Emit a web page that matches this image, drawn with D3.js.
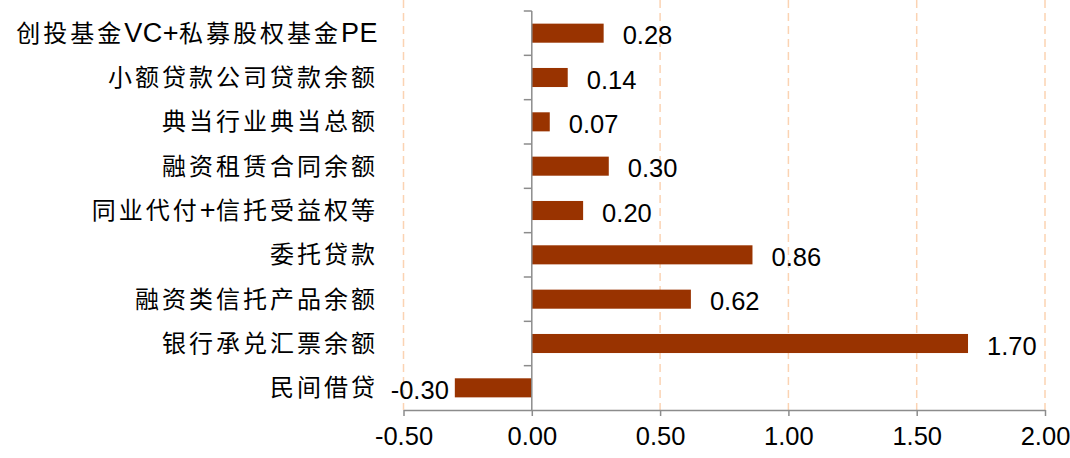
<!DOCTYPE html>
<html>
<head>
<meta charset="utf-8">
<script src="https://cdn.jsdelivr.net/npm/d3@7"></script>
<style>
  html, body { margin: 0; padding: 0; background: #fff; }
  svg { display: block; }
</style>
</head>
<body>
<div id="chart"></div>
<script>
const categories = [
  "创投基金VC+私募股权基金PE",
  "小额贷款公司贷款余额",
  "典当行业典当总额",
  "融资租赁合同余额",
  "同业代付+信托受益权等",
  "委托贷款",
  "融资类信托产品余额",
  "银行承兑汇票余额",
  "民间借贷"
];
const values = [0.28, 0.14, 0.07, 0.30, 0.20, 0.86, 0.62, 1.70, -0.30];
const xTicks = [-0.5, 0, 0.5, 1.0, 1.5, 2.0];
const xTickLabels = ["-0.50", "0.00", "0.50", "1.00", "1.50", "2.00"];

const W = 1070, H = 458;
const svg = d3.select("#chart").append("svg").attr("width", W).attr("height", H);

const x = d3.scaleLinear().domain([-0.5, 2.0]).range([403.5, 1045]);
const y = d3.scaleBand().domain(categories).range([11, 410]).paddingInner(0.57).paddingOuter(0.285);
const yTop = 11, yBot = 410;

// gridlines
svg.append("g").selectAll("line").data(xTicks.filter(d => d !== 0)).join("line")
  .attr("x1", d => x(d)).attr("x2", d => x(d))
  .attr("y1", 0).attr("y2", yBot)
  .attr("stroke", "#FBD3B3").attr("stroke-width", 1.5)
  .attr("stroke-dasharray", "8,5");

// bars
svg.append("g").selectAll("rect").data(values).join("rect")
  .attr("x", d => x(Math.min(0, d)))
  .attr("width", d => Math.abs(x(d) - x(0)))
  .attr("y", (d, i) => y(categories[i]))
  .attr("height", y.bandwidth())
  .attr("fill", "#993300");

// bottom axis
const xAxis = d3.axisBottom(x).tickValues(xTicks).tickSize(6).tickSizeOuter(0)
  .tickFormat((d, i) => xTickLabels[i]);
const gx = svg.append("g").attr("transform", `translate(0,${yBot})`).call(xAxis);
gx.select(".domain").attr("stroke", "#8c8c8c").attr("stroke-width", 1.5);
gx.selectAll(".tick line").attr("stroke", "#8c8c8c").attr("stroke-width", 1.5);
gx.selectAll(".tick text")
  .attr("font-family", "'Liberation Sans', Arial, sans-serif")
  .attr("font-size", 25.5).attr("fill", "#000").attr("y", 17).attr("dy", "0.71em");

// zero axis
svg.append("line")
  .attr("x1", x(0)).attr("x2", x(0)).attr("y1", yTop).attr("y2", yBot)
  .attr("stroke", "#8c8c8c").attr("stroke-width", 1.5);
const step = y.step();
const boundaries = d3.range(categories.length).map(i => yTop + i * step);
svg.append("g").selectAll("line").data(boundaries).join("line")
  .attr("x1", x(0) - 8).attr("x2", x(0))
  .attr("y1", d => d).attr("y2", d => d)
  .attr("stroke", "#8c8c8c").attr("stroke-width", 1.5);

// category labels (CJK runs spaced, Latin runs tight and larger)
const catText = svg.append("g").selectAll("text").data(categories).join("text")
  .attr("x", 378)
  .attr("y", d => y(d) + y.bandwidth() / 2)
  .attr("dy", "0.36em")
  .attr("text-anchor", "end")
  .attr("font-family", "'Liberation Sans', 'Noto Sans CJK SC', sans-serif")
  .attr("font-size", 24)
  .attr("fill", "#000");
catText.each(function(d) {
  const runs = d.match(/[\u4e00-\u9fff]+|[^\u4e00-\u9fff]+/g);
  const t = d3.select(this);
  runs.forEach(r => {
    const cjk = /[\u4e00-\u9fff]/.test(r);
    const ts = t.append("tspan").attr("letter-spacing", cjk ? "3px" : "0.5px").text(r);
    if (!cjk) ts.attr("font-size", 27);
  });
});

// value labels
svg.append("g").selectAll("text").data(values).join("text")
  .attr("x", d => d >= 0 ? x(d) + 19 : x(d) - 6)
  .attr("y", (d, i) => y(categories[i]) + y.bandwidth() / 2 + 2)
  .attr("dy", "0.36em")
  .attr("text-anchor", d => d >= 0 ? "start" : "end")
  .attr("font-family", "'Liberation Sans', Arial, sans-serif")
  .attr("font-size", 25.5)
  .attr("fill", "#000")
  .text(d => d.toFixed(2));
</script>
</body>
</html>
